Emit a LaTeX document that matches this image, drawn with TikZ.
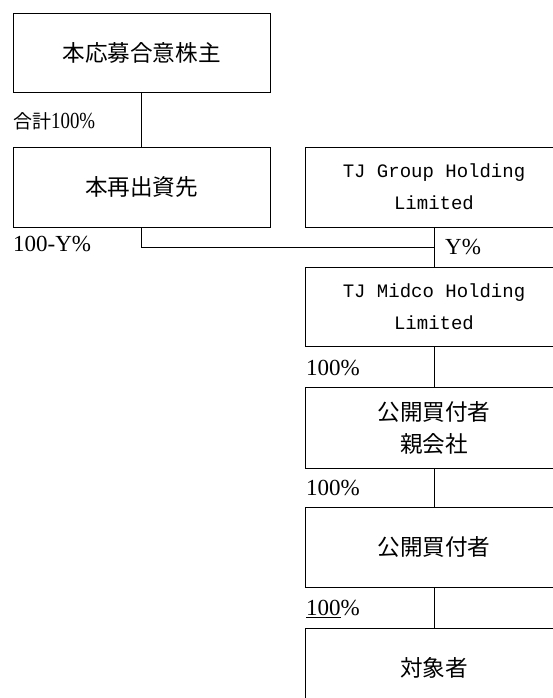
\documentclass[tikz,border=0pt]{standalone}
\usepackage{fontspec}
\usepackage{graphicx}
\setmainfont{Liberation Serif}
\newfontfamily\cjk{Noto Sans CJK JP}
\newfontfamily\mono{Liberation Mono}
\begin{document}
\begin{tikzpicture}[x=1pt,y=-1pt,
  box/.style={draw,line width=1pt,minimum width=257pt,inner sep=0pt,align=center,font=\fontsize{22.6}{32}\selectfont},
  lbl/.style={anchor=west,inner sep=0pt,font=\fontsize{23}{27}\selectfont},
  link/.style={line width=1pt}]
\useasboundingbox (0,0) rectangle (553,698);
\clip (0,0) rectangle (553,698);
\node[box,minimum height=79pt] (b1) at (141.5,53) {\cjk 本応募合意株主};
\node[box,minimum height=80pt] (b2) at (141.5,187) {\cjk 本再出資先};
\node[box,minimum height=80pt,minimum width=258pt] (r1) at (434,187) {\mono\fontsize{19}{30}\selectfont TJ Group Holding\\ \mono\fontsize{19}{30}\selectfont Limited};
\node[box,minimum height=79pt,minimum width=258pt] (r2) at (434,306.5) {\mono\fontsize{19}{30}\selectfont TJ Midco Holding\\ \mono\fontsize{19}{30}\selectfont Limited};
\node[box,minimum height=81pt,minimum width=258pt] (r3) at (434,427.5) {\cjk 公開買付者\\ \cjk 親会社};
\node[box,minimum height=80pt,minimum width=258pt] (r4) at (434,547) {\cjk 公開買付者};
\node[box,minimum height=80pt,minimum width=258pt] (r5) at (434,668) {\cjk 対象者};
\coordinate (j) at (434,247);
\draw[link] (b1.south) -- (b2.south |- b2.north);
\draw[link] (b2.south) |- (j);
\draw[link] (r1.south) -- (r2.north);
\draw[link] (r2.south) -- (r3.north);
\draw[link] (r3.south) -- (r4.north);
\draw[link] (r4.south) -- (r5.north);
\node[lbl] (l1) at (13,121) {{\cjk\fontsize{19}{22}\selectfont 合計}\scalebox{0.82}[1]{100\%}};
\node[lbl] (l2) at (13,244) {100-Y\%};
\node[lbl] (l3) at (445,247) {Y\%};
\node[lbl] (l4) at (306,368) {100\%};
\node[lbl] (l5) at (306,488) {100\%};
\node[lbl] (l6) at (306,609) {\underline{100}\%};
\end{tikzpicture}
\end{document}
